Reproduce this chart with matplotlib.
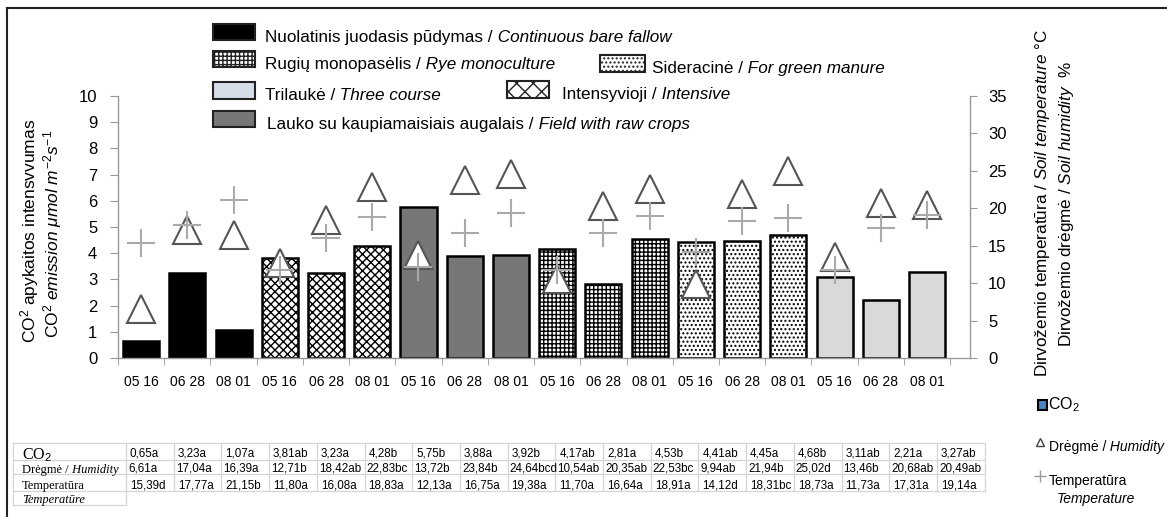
import numpy as np
import matplotlib
matplotlib.use('Agg')
import matplotlib.pyplot as plt
from matplotlib.patches import Rectangle
from matplotlib.lines import Line2D

plt.rcParams['font.family'] = ['Liberation Sans', 'DejaVu Sans']
plt.rcParams['mathtext.fontset'] = 'custom'
plt.rcParams['mathtext.rm'] = 'Liberation Sans'
plt.rcParams['mathtext.it'] = 'Liberation Sans:italic'
plt.rcParams['mathtext.bf'] = 'Liberation Sans:bold'
plt.rcParams['hatch.linewidth'] = 1.0

# matavimo datos kiekvienai sėjomainai
dates = ['05 16', '06 28', '08 01'] * 6

co2 = [0.65, 3.23, 1.07, 3.81, 3.23, 4.28, 5.75, 3.88, 3.92,
       4.17, 2.81, 4.53, 4.41, 4.45, 4.68, 3.11, 2.21, 3.27]
co2_let = ['a', 'a', 'a', 'ab', 'a', 'b', 'b', 'a', 'b',
           'ab', 'a', 'b', 'ab', 'a', 'b', 'ab', 'a', 'ab']

humidity = [6.61, 17.04, 16.39, 12.71, 18.42, 22.83, 13.72, 23.84, 24.64,
            10.54, 20.35, 22.53, 9.94, 21.94, 25.02, 13.46, 20.68, 20.49]
hum_let = ['a', 'a', 'a', 'b', 'ab', 'bc', 'b', 'b', 'bcd',
           'ab', 'ab', 'bc', 'ab', 'b', 'd', 'b', 'ab', 'ab']

temperature = [15.39, 17.77, 21.15, 11.80, 16.08, 18.83, 12.13, 16.75, 19.38,
               11.70, 16.64, 18.91, 14.12, 18.31, 18.73, 11.73, 17.31, 19.14]
temp_let = ['d', 'a', 'b', 'a', 'a', 'a', 'a', 'a', 'a',
            'a', 'a', 'a', 'd', 'bc', 'a', 'a', 'a', 'a']

# sėjomainų stiliai (iš eilės kaip grafike)
group_fc = ['black', 'white', '#777777', 'white', 'white', '#d9d9d9']
group_hatch = [None, 'xxxx', None, '++++', '....', None]

W, H = 1167, 517
fig = plt.figure(figsize=(W / 100, H / 100), dpi=100)
renderer = fig.canvas.get_renderer()


def fx(x):
    return x / W


def fy(y):
    return 1 - y / H


ax1 = fig.add_axes([fx(118), fy(358), (970 - 118) / W, (358 - 96) / H])
ax2 = ax1.twinx()

x = np.arange(len(co2))
co2_arr = np.array(co2)
for g in range(6):
    idx = x[g * 3:(g + 1) * 3]
    ax1.bar(idx, co2_arr[idx], width=0.78, color=group_fc[g], hatch=group_hatch[g],
            edgecolor='black', linewidth=1.8, zorder=2)

ax2.plot(x, humidity, ls='none', marker='^', ms=20, mfc='white', mec='#555555',
         mew=1.5, zorder=3)
ax2.plot(x, temperature, ls='none', marker='+', ms=20, mec='#aaaaaa', mew=1.5, zorder=4)

ax1.set_xlim(-0.5, 17.93)
ax1.set_ylim(0, 10)
ax2.set_ylim(0, 35)
ax1.set_yticks(range(0, 11))
ax2.set_yticks(range(0, 36, 5))
ax1.set_xticks(x)
ax1.set_xticklabels(dates)
ax1.set_xticks(np.arange(-0.5, 18, 1), minor=True)

for s in ['top', 'right']:
    ax1.spines[s].set_visible(False)
for s in ['top', 'left', 'bottom']:
    ax2.spines[s].set_visible(False)
for sp in [ax1.spines['left'], ax1.spines['bottom'], ax2.spines['right']]:
    sp.set_color('#999999')
    sp.set_linewidth(1.0)

ax1.tick_params(axis='x', which='major', length=0, pad=12, labelsize=10)
ax1.tick_params(axis='x', which='minor', length=5, color='#999999')
ax1.tick_params(axis='y', length=6, color='#999999', pad=9, labelsize=12)
ax2.tick_params(axis='y', length=5, color='#999999', pad=8, labelsize=12)

# ašių pavadinimai
fig.text(fx(30), fy(231), 'CO$^2$ apykaitos intensvvumas', rotation=90,
         ha='center', va='center', fontsize=12.5)
fig.text(fx(53), fy(234), r'CO$^2$ $\mathit{emission\ μmol\ m^{-2}s^{-1}}$', rotation=90,
         ha='center', va='center', fontsize=12.5)
fig.text(fx(1043), fy(203), r'Dirvožemio temperatūra / $\mathit{Soil\ temperature}$ °C',
         rotation=90, ha='center', va='center', fontsize=12.3)
fig.text(fx(1067), fy(204), r'Dirvožemio drėgmė / $\mathit{Soil\ humidity}$  %',
         rotation=90, ha='center', va='center', fontsize=12.3)


def seg_text(xp, yp, parts, size, family=None):
    for s, st in parts:
        kw = {} if family is None else {'family': family}
        t = fig.text(fx(xp), fy(yp), s, fontsize=size, style=st,
                     ha='left', va='center_baseline', **kw)
        xp += t.get_window_extent(renderer).width
    return xp


# legenda viršuje
legend_items = [
    (213, 32, 42, 16, 0, 265, 'Nuolatinis juodasis pūdymas /', ' Continuous bare fallow'),
    (213, 59, 42, 16, 3, 265, 'Rugių monopasėlis /', ' Rye monoculture'),
    (600, 63, 45, 17, 4, 652, 'Sideracinė /', ' For green manure'),
    (213, 90, 42, 17, 5, 265, 'Trilaukė /', ' Three course'),
    (507, 89, 42, 17, 1, 562, 'Intensyvioji /', ' Intensive'),
    (213, 119, 42, 16, 2, 267, 'Lauko su kaupiamaisiais augalais /', ' Field with raw crops'),
]
for lx, ly, lw, lh, g, tx, lt, it in legend_items:
    fc = '#d6dde8' if g == 5 else group_fc[g]
    hatch = group_hatch[g][:2] if group_hatch[g] == 'xxxx' else group_hatch[g]
    fig.add_artist(Rectangle((fx(lx), fy(ly + lh / 2)), lw / W, lh / H,
                             transform=fig.transFigure, facecolor=fc,
                             hatch=hatch, edgecolor='#222222', linewidth=1.5))
    seg_text(tx, ly + 4, [(lt, 'normal'), (it, 'italic')], 12.3)

# legenda dešinėje apačioje
fig.add_artist(Rectangle((fx(1038), fy(410)), 9 / W, 10 / H, transform=fig.transFigure,
                         facecolor='#4a86c5', edgecolor='black', linewidth=1.5))
fig.text(fx(1048), fy(405), 'CO$_2$', fontsize=11.5, ha='left', va='center')
fig.add_artist(Line2D([fx(1040)], [fy(442)], marker='^', ms=6, mfc='none', mec='#444444',
                      mew=1, ls='none', transform=fig.transFigure))
seg_text(1049, 446, [('Drėgmė /', 'normal'), (' Humidity', 'italic')], 10)
fig.add_artist(Line2D([fx(1040)], [fy(476)], marker='+', ms=9, mec='#999999',
                      mew=1, ls='none', transform=fig.transFigure))
seg_text(1049, 480, [('Temperatūra', 'normal')], 10)
seg_text(1057, 498, [('Temperature', 'italic')], 10)

# lentelė
col_x = [13, 126] + [126 + 47.7 * (k + 1) for k in range(18)]
row_y = [443, 460, 474, 491]
line_kw = dict(color='#d5d5d5', linewidth=0.9, transform=fig.transFigure)
for yy in row_y:
    fig.add_artist(Line2D([fx(col_x[0]), fx(col_x[-1])], [fy(yy), fy(yy)], **line_kw))
fig.add_artist(Line2D([fx(col_x[0]), fx(col_x[1])], [fy(505), fy(505)], **line_kw))
for i, xx in enumerate(col_x):
    bottom = 505 if i < 2 else 491
    fig.add_artist(Line2D([fx(xx), fx(xx)], [fy(443), fy(bottom)], **line_kw))

serif = 'Liberation Serif'
seg_text(22, 453, [('CO$_2$', 'normal')], 11.5, serif)
seg_text(22, 468, [('Drėgmė /', 'normal'), (' Humidity', 'italic')], 9, serif)
seg_text(22, 485, [('Temperatūra', 'normal')], 9, serif)
seg_text(22, 498, [('Temperatūre', 'italic')], 9, serif)


def fmt(v, let):
    return f'{v:.2f}'.replace('.', ',') + let


for k in range(18):
    cx = col_x[k + 1] + 4
    seg_text(cx, 452, [(fmt(co2[k], co2_let[k]), 'normal')], 8.4)
    seg_text(cx - 2, 467, [(fmt(humidity[k], hum_let[k]), 'normal')], 8.4)
    seg_text(cx, 484, [(fmt(temperature[k], temp_let[k]), 'normal')], 8.4)

# rėmelis
fig.add_artist(Line2D([fx(7), 1], [fy(8), fy(8)], color='#222222', linewidth=1.5,
                      transform=fig.transFigure))
fig.add_artist(Line2D([fx(7), fx(7)], [fy(8), 0], color='#222222', linewidth=1.5,
                      transform=fig.transFigure))

fig.savefig('out.png', dpi=100)
